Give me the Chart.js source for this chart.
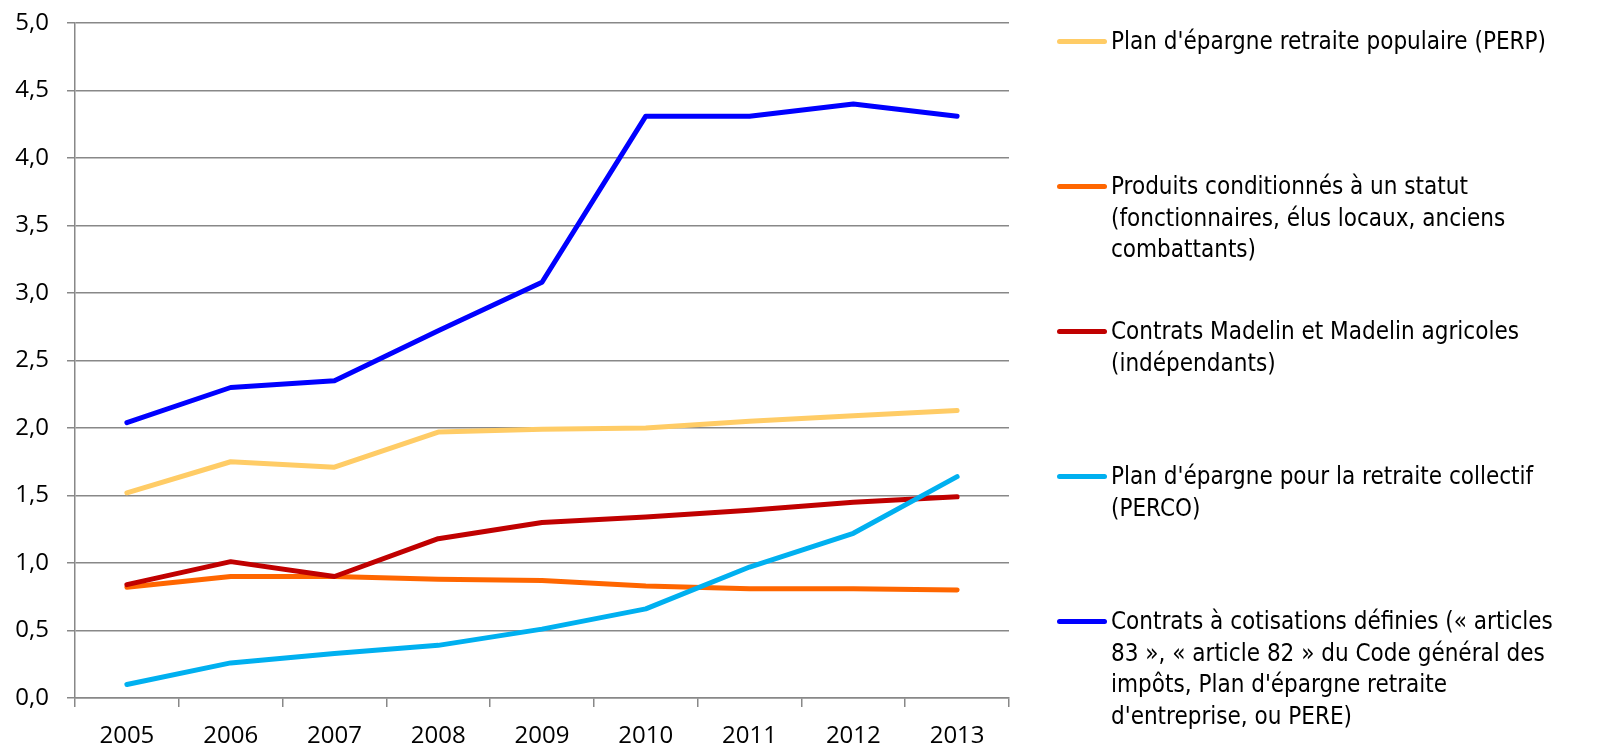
<!DOCTYPE html>
<html lang="fr">
<head>
<meta charset="utf-8">
<title>Épargne retraite supplémentaire</title>
<script src="https://cdn.jsdelivr.net/npm/chart.js@4.4.1/dist/chart.umd.min.js"></script>
<style>
    html, body { margin: 0; padding: 0; background: #fff; }
    #wrap { position: relative; width: 1601px; height: 745px; }
    #myChart { display: block; }
    #legend {
        position: absolute; left: 1057px; top: 0;
        font-family: "DejaVu Sans Condensed", "DejaVu Sans", sans-serif;
        font-size: 24px; line-height: 31.7px; color: #000;
    }
    .item { position: absolute; left: 0; white-space: nowrap; }
    .swatch { position: absolute; left: 0; top: 13px; width: 50px; height: 5px; border-radius: 3px; }
    .text { position: absolute; left: 54px; top: 0; }
</style>
</head>
<body>
<div id="wrap">
    <canvas id="myChart" width="1601" height="745" style="width:1601px;height:745px"></canvas>
    <div id="legend"></div>
</div>
<script>
// categories
const years = ['2005', '2006', '2007', '2008', '2009', '2010', '2011', '2012', '2013'];

// series values
const perp = [1.52, 1.75, 1.71, 1.97, 1.99, 2.00, 2.05, 2.09, 2.13];
const statut = [0.82, 0.90, 0.90, 0.88, 0.87, 0.83, 0.81, 0.81, 0.80];
const madelin = [0.84, 1.01, 0.90, 1.18, 1.30, 1.34, 1.39, 1.45, 1.49];
const perco = [0.10, 0.26, 0.33, 0.39, 0.51, 0.66, 0.97, 1.22, 1.64];
const cotisations = [2.04, 2.30, 2.35, 2.72, 3.08, 4.31, 4.31, 4.40, 4.31];

// legend texts, one array of lines per series
const perpLabel = ["Plan d'épargne retraite populaire (PERP)"];
const statutLabel = ["Produits conditionnés à un statut", "(fonctionnaires, élus locaux, anciens", "combattants)"];
const madelinLabel = ["Contrats Madelin et Madelin agricoles", "(indépendants)"];
const percoLabel = ["Plan d'épargne pour la retraite collectif", "(PERCO)"];
const cotisationsLabel = ["Contrats à cotisations définies (« articles", "83 », « article 82 » du Code général des", "impôts, Plan d'épargne retraite", "d'entreprise, ou PERE)"];

const tickFont = { family: "'Open Sans', sans-serif", size: 24 };

function series(label, data, color, order) {
    return {
        label: label.join(' '),
        lines: label,
        data: data,
        borderColor: color,
        backgroundColor: color,
        borderWidth: 5,
        borderCapStyle: 'round',
        borderJoinStyle: 'round',
        pointRadius: 0,
        tension: 0,
        order: order
    };
}

// legend drawn as html so the labels can wrap like the original
const htmlLegend = {
    id: 'htmlLegend',
    afterUpdate(chart) {
        const box = document.getElementById('legend');
        box.innerHTML = '';
        chart.data.datasets.forEach((ds, i) => {
            const item = document.createElement('div');
            item.className = 'item';
            item.style.top = (25.85 + i * 145) + 'px';
            const sw = document.createElement('div');
            sw.className = 'swatch';
            sw.style.background = ds.borderColor;
            const txt = document.createElement('div');
            txt.className = 'text';
            txt.innerHTML = ds.lines.map(l => l.replace(/&/g, '&amp;')).join('<br>');
            item.appendChild(sw);
            item.appendChild(txt);
            box.appendChild(item);
        });
    }
};

const ctx = document.getElementById('myChart').getContext('2d');
const chart = new Chart(ctx, {
    type: 'line',
    data: {
        labels: years,
        datasets: [
            series(perpLabel, perp, '#FFCC66', 4),
            series(statutLabel, statut, '#FF6600', 3),
            series(madelinLabel, madelin, '#C00000', 2),
            series(percoLabel, perco, '#00B0F0', 1),
            series(cotisationsLabel, cotisations, '#0000FF', 0)
        ]
    },
    options: {
        responsive: false,
        animation: false,
        devicePixelRatio: 1,
        layout: { padding: { top: 23, right: 592, bottom: 0, left: 0 } },
        plugins: {
            legend: { display: false },
            tooltip: { enabled: false }
        },
        scales: {
            x: {
                offset: true,
                grid: { offset: true, drawOnChartArea: false, drawTicks: true, tickLength: 9, color: '#888888', lineWidth: 1.5 },
                border: { color: '#888888', width: 1.5 },
                ticks: { font: tickFont, color: '#000', padding: 15, maxRotation: 0 },
                afterFit(scale) {
                    scale.height = 47;
                    scale.paddingLeft = 0;
                    scale.paddingRight = 0;
                }
            },
            y: {
                min: 0,
                max: 5,
                grid: { color: '#888888', lineWidth: 1.5, tickLength: 8 },
                border: { color: '#888888', width: 1.5 },
                ticks: {
                    stepSize: 0.5,
                    font: tickFont,
                    color: '#000',
                    padding: 18,
                    callback: function(value) {
                        return value.toFixed(1).replace('.', ',');
                    }
                },
                afterFit(scale) {
                    scale.width = 75;
                    scale.paddingTop = 0;
                    scale.paddingBottom = 0;
                }
            }
        }
    },
    plugins: [htmlLegend]
});
</script>
</body>
</html>
